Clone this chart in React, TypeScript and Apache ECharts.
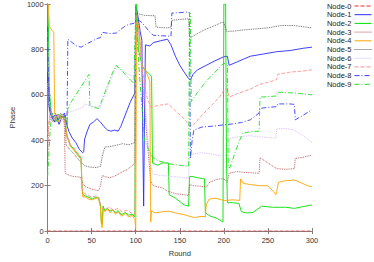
import React, { useEffect, useRef } from "react";
import * as echarts from "echarts";

const nodeNames = ["Node-0", "Node-1", "Node-2", "Node-3", "Node-4", "Node-5", "Node-6", "Node-7", "Node-8", "Node-9"];
const xTicks = { min: 0, max: 300, interval: 50 };
const yTicks = { min: 0, max: 1000, interval: 200 };

const node0 = [[0, 0], [100, 0], [200, 0], [300, 0]];
const node1 = [[0, 700], [1, 560], [3, 520], [5, 500], [8, 480], [10, 510], [13, 470], [16, 500], [19, 520], [21, 480], [24, 440], [28, 410], [32, 390], [36, 360], [40, 345], [41, 350], [42, 405], [45, 440], [48, 470], [52, 480], [56, 495], [60, 480], [64, 460], [68, 445], [72, 440], [76, 445], [80, 440], [83, 460], [86, 490], [90, 530], [94, 570], [98, 600], [99, 610], [100, 990], [102, 960], [105, 880], [107, 840], [108, 400], [109, 110], [110, 500], [111, 820], [116, 815], [120, 830], [128, 838], [136, 845], [140, 820], [145, 770], [150, 730], [155, 700], [160, 672], [162, 665], [165, 690], [170, 710], [180, 730], [190, 750], [200, 768], [204, 770], [206, 730], [215, 745], [230, 770], [245, 780], [260, 790], [275, 795], [290, 805], [300, 810]];
const node2 = [[0, 1000], [1, 900], [2, 620], [4, 530], [6, 505], [9, 490], [12, 515], [15, 495], [18, 505], [20, 500], [21, 450], [22, 420], [26, 378], [30, 360], [34, 340], [38, 320], [39, 200], [40, 160], [43, 155], [47, 148], [51, 142], [55, 150], [58, 145], [60, 115], [61, 40], [62, 30], [63, 110], [65, 90], [68, 100], [71, 88], [74, 95], [77, 80], [80, 90], [84, 72], [88, 82], [92, 70], [96, 75], [99, 62], [100, 1000], [101, 1000], [103, 800], [108, 720], [116, 690], [118, 680], [119, 300], [125, 290], [130, 300], [137, 300], [138, 160], [145, 145], [150, 130], [155, 115], [160, 110], [161, 240], [165, 240], [170, 235], [178, 230], [179, 80], [185, 65], [190, 60], [195, 50], [199, 40], [200, 1000], [202, 1000], [203, 300], [204, 125], [210, 125], [217, 122], [220, 85], [226, 80], [233, 82], [243, 110], [255, 105], [270, 105], [280, 100], [290, 108], [300, 115]];
const node3 = [[0, 300], [1, 450], [3, 500], [6, 480], [9, 520], [12, 490], [15, 510], [18, 495], [19, 470], [20, 255], [25, 245], [30, 240], [37, 238], [40, 210], [43, 195], [50, 185], [55, 180], [58, 178], [60, 200], [62, 245], [65, 240], [70, 235], [75, 240], [80, 250], [85, 262], [90, 270], [95, 285], [99, 300], [100, 960], [103, 920], [108, 650], [113, 400], [117, 220], [120, 200], [125, 195], [130, 190], [137, 175], [145, 165], [155, 160], [160, 157], [161, 205], [165, 200], [172, 198], [180, 195], [184, 215], [190, 225], [195, 230], [200, 230], [204, 215], [206, 255], [215, 262], [225, 258], [240, 255], [241, 323], [250, 300], [260, 275], [270, 272], [280, 275], [281, 320], [290, 325], [300, 335]];
const node4 = [[0, 1000], [1, 995], [2, 905], [3, 895], [5, 885], [7, 875], [8, 520], [10, 505], [13, 480], [16, 515], [19, 490], [20, 470], [21, 440], [22, 415], [26, 372], [30, 355], [34, 335], [38, 315], [39, 190], [40, 150], [43, 150], [47, 140], [51, 138], [55, 145], [58, 140], [60, 105], [61, 30], [62, 15], [63, 100], [65, 85], [68, 98], [71, 80], [74, 92], [77, 75], [80, 85], [84, 65], [88, 78], [92, 62], [96, 70], [99, 52], [100, 10], [101, 940], [104, 880], [107, 730], [112, 700], [116, 660], [117, 40], [118, 90], [122, 80], [130, 85], [137, 88], [145, 80], [155, 72], [166, 60], [175, 65], [179, 62], [180, 115], [183, 140], [190, 145], [200, 135], [203, 135], [210, 138], [218, 135], [219, 230], [222, 210], [230, 205], [240, 200], [250, 200], [256, 175], [259, 160], [260, 175], [262, 215], [270, 222], [280, 225], [288, 212], [295, 200], [300, 195]];
const node5 = [[0, 800], [1, 600], [3, 510], [6, 495], [9, 480], [12, 500], [15, 520], [18, 505], [20, 480], [21, 380], [25, 360], [30, 340], [35, 315], [40, 295], [42, 288], [48, 282], [55, 280], [60, 285], [62, 330], [65, 370], [70, 372], [78, 378], [85, 385], [92, 380], [99, 390], [100, 960], [105, 955], [110, 950], [122, 948], [123, 898], [135, 895], [140, 898], [141, 928], [150, 932], [160, 935], [161, 858], [162, 852], [170, 870], [180, 890], [190, 905], [198, 920], [200, 918], [203, 880], [210, 880], [220, 885], [235, 890], [250, 895], [265, 905], [280, 905], [290, 900], [300, 895]];
const node6 = [[0, 650], [1, 540], [3, 505], [6, 520], [9, 495], [12, 505], [15, 490], [18, 520], [20, 500], [21, 520], [30, 530], [40, 545], [42, 560], [50, 550], [60, 545], [63, 580], [70, 650], [78, 725], [85, 705], [92, 690], [99, 680], [100, 900], [104, 850], [110, 600], [116, 300], [120, 250], [130, 245], [140, 240], [150, 238], [160, 232], [161, 323], [165, 340], [175, 345], [185, 340], [199, 330], [206, 340], [207, 408], [215, 415], [230, 420], [240, 415], [259, 410], [260, 450], [270, 452], [280, 445], [290, 420], [300, 390]];
const node7 = [[0, 400], [1, 470], [3, 530], [6, 505], [9, 490], [12, 510], [15, 500], [18, 480], [20, 490], [21, 445], [22, 425], [26, 380], [30, 365], [34, 345], [38, 325], [39, 210], [40, 170], [45, 160], [50, 150], [55, 155], [58, 150], [60, 120], [62, 100], [65, 95], [70, 105], [75, 92], [80, 100], [85, 85], [90, 92], [95, 80], [99, 75], [100, 950], [103, 900], [108, 700], [112, 600], [117, 545], [120, 548], [128, 555], [137, 560], [145, 530], [155, 495], [161, 463], [165, 465], [175, 510], [185, 550], [195, 590], [200, 620], [204, 625], [206, 590], [215, 605], [230, 625], [240, 645], [250, 655], [260, 667], [261, 690], [275, 700], [290, 705], [300, 710]];
const node8 = [[0, 900], [1, 650], [3, 520], [6, 500], [9, 515], [12, 490], [15, 505], [18, 500], [20, 510], [22, 470], [23, 845], [28, 830], [33, 815], [38, 810], [43, 822], [50, 835], [56, 848], [60, 852], [62, 875], [70, 870], [78, 872], [82, 885], [87, 900], [92, 910], [98, 915], [100, 930], [105, 925], [110, 905], [115, 880], [120, 862], [130, 860], [140, 858], [141, 960], [150, 962], [160, 965], [161, 960], [162, 320], [164, 400], [166, 445], [175, 458], [190, 463], [200, 468], [210, 472], [220, 478], [230, 490], [240, 520], [241, 540], [250, 545], [260, 548], [261, 560], [275, 560], [280, 558], [281, 490], [290, 510], [300, 535]];
const node9 = [[0, 240], [1, 300], [3, 450], [5, 520], [8, 500], [11, 480], [14, 510], [17, 495], [20, 505], [22, 470], [23, 540], [27, 570], [32, 600], [37, 630], [42, 660], [47, 690], [48, 550], [52, 545], [58, 540], [62, 580], [68, 640], [74, 700], [78, 730], [82, 715], [88, 690], [94, 665], [98, 650], [100, 980], [104, 700], [110, 400], [118, 330], [125, 310], [140, 295], [160, 285], [161, 960], [162, 960], [163, 570], [170, 610], [180, 660], [190, 700], [200, 740], [204, 730], [205, 280], [207, 280], [214, 360], [221, 430], [230, 438], [240, 440], [241, 590], [250, 592], [260, 595], [261, 612], [280, 608], [300, 600]];

const nodeData = [node0, node1, node2, node3, node4, node5, node6, node7, node8, node9];
const nodeColors = ["#ff2020", "#2a2aff", "#00e000", "#b84848", "#ffa500", "#555555", "#d4b4ff", "#ff9090", "#3a3aff", "#20e020"];
const nodeDash: any[] = ["dashed", "solid", "solid", "dotted", "solid", "dotted", "dotted", "dashed", [5, 2, 1, 2], [5, 2, 1, 2]];

export default function App() {
  const ref = useRef<HTMLDivElement>(null);
  useEffect(() => {
    if (!ref.current) return;
    const chart = echarts.init(ref.current, undefined, { renderer: "svg" });
    const font = "Liberation Sans, Arial, sans-serif";
    const frame = { show: true, lineStyle: { color: "#808080", width: 1 } };
    const tick = { show: true, inside: true, length: 3, lineStyle: { color: "#808080" } };
    chart.setOption({
      animation: false,
      textStyle: { fontFamily: font },
      grid: { left: 39, right: 62, top: 4, bottom: 23, containLabel: false },
      legend: {
        orient: "vertical",
        right: 2,
        top: 2,
        align: "right",
        itemWidth: 17,
        itemHeight: 7,
        itemGap: 0.7,
        padding: 0,
        itemStyle: { opacity: 0, borderWidth: 0 },
        lineStyle: { width: 1 },
        textStyle: { fontSize: 7.5, color: "#222", fontFamily: font, lineHeight: 7.7, padding: [0, -2, 0, 0] },
        data: nodeNames,
      },
      xAxis: [
        {
          type: "value", ...xTicks, position: "bottom",
          axisLine: frame, axisTick: tick, splitLine: { show: false },
          axisLabel: { fontSize: 7.5, color: "#333", margin: 5, fontFamily: font },
          name: "Round", nameLocation: "middle", nameGap: 15,
          nameTextStyle: { fontSize: 7.5, color: "#333", fontFamily: font },
        },
        {
          type: "value", ...xTicks, position: "top",
          axisLine: frame, axisTick: tick, splitLine: { show: false }, axisLabel: { show: false },
        },
      ],
      yAxis: [
        {
          type: "value", ...yTicks, position: "left",
          axisLine: frame, axisTick: tick, splitLine: { show: false },
          axisLabel: { fontSize: 7.5, color: "#333", margin: 4, fontFamily: font, formatter: (v: number) => String(v) },
          name: "Phase", nameLocation: "middle", nameGap: 29,
          nameTextStyle: { fontSize: 7.5, color: "#333", fontFamily: font },
        },
        {
          type: "value", ...yTicks, position: "right",
          axisLine: frame, axisTick: tick, splitLine: { show: false }, axisLabel: { show: false },
        },
      ],
      series: nodeData.map((d, i) => ({
        name: nodeNames[i],
        type: "line",
        data: d,
        symbol: "none",
        showSymbol: false,
        xAxisIndex: 0,
        yAxisIndex: 0,
        lineStyle: { color: nodeColors[i], width: 0.9, type: nodeDash[i] },
        itemStyle: { color: nodeColors[i] },
        z: 2 + i,
      })),
    });
    return () => chart.dispose();
  }, []);
  return <div ref={ref} style={{ width: 374, height: 262, position: "absolute", left: 0, top: 0 }} />;
}
